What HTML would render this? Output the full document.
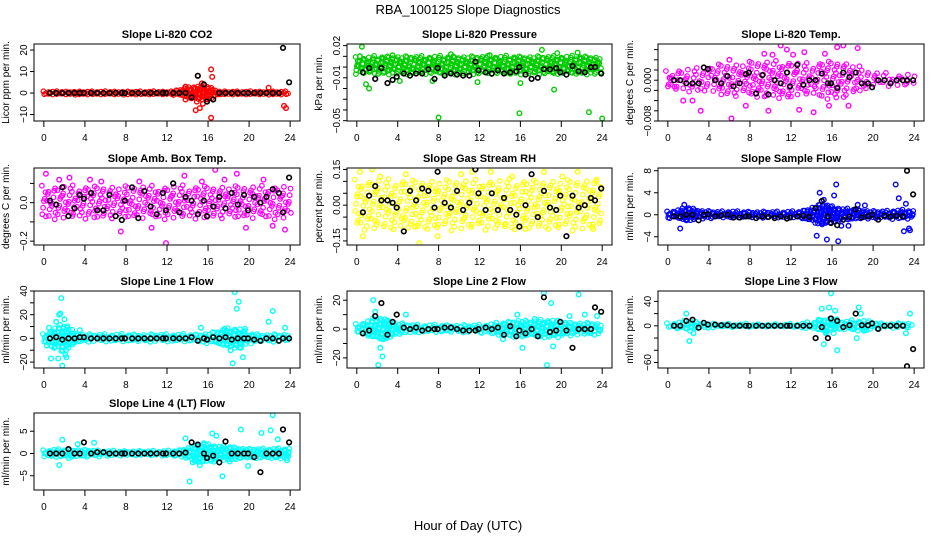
<!DOCTYPE html>
<html><head><meta charset="utf-8"><style>
html,body{margin:0;padding:0;background:#fff;}
svg{display:block;font-family:"Liberation Sans",sans-serif;}
</style></head><body>
<svg id="chart" width="936" height="540" viewBox="0 0 936 540">
<text x="468" y="14" text-anchor="middle" font-size="13">RBA_100125  Slope Diagnostics</text>
<text x="468" y="530" text-anchor="middle" font-size="13">Hour of Day (UTC)</text>
</svg>
<script>
const xTicks = [0,4,8,12,16,20,24];
const blackHours = [0.6,1.2,1.8,2.4,3.0,3.5,3.9,4.6,5.2,5.8,6.4,7.0,7.6,7.9,8.6,9.2,9.8,10.4,11.0,11.6,11.9,12.6,13.2,13.8,14.4,15.0,15.6,15.9,16.5,17.1,17.7,18.3,18.9,19.5,19.9,20.5,21.1,21.7,22.3,22.9,23.3,23.9];

const co2Black = [0,0,0,0,0,0,0,0,0,0,0,0,0,0,0,0,0,0,0,0,0,0,0,0,-2,8,4,-4,-3,0,0,0,0,0,0,0,0,0,0,0,21,5];
const co2Half = [0.6,0.6,0.6,0.6,0.6,0.6,0.6,0.6,0.6,0.6,0.6,0.6,0.6,1.2,2.5,3,3,0.8,0.6,0.6,0.6,0.6,0.6,0.6,0.6];
const co2OutX = [13.8,13.8,14.5,14.8,15.0,15.2,15.2,15.4,15.5,15.6,16.3,16.4,16.3,21.9,23.4,23.6,15.9,14.9];
const co2OutY = [3,-3,-2,-8,8,-7,1.5,4.5,-5,2,11,7.5,-11.5,2.5,-6,-7,-3,-4];

const pressBlack = [-0.005,-0.001,-0.011,-0.001,-0.015,-0.012,-0.009,-0.006,-0.008,-0.006,-0.006,-0.002,-0.011,-0.001,-0.008,-0.006,-0.007,-0.008,-0.008,0.005,-0.003,-0.005,-0.006,-0.003,-0.006,-0.005,-0.004,0.0,-0.007,-0.011,-0.010,-0.002,-0.002,-0.001,-0.005,-0.007,0.001,-0.004,-0.005,0.0,0.0,-0.006];
const pressHalf = [0.007,0.007,0.008,0.008,0.008,0.008,0.008,0.008,0.008,0.008,0.008,0.008,0.008,0.008,0.008,0.008,0.008,0.008,0.008,0.008,0.008,0.008,0.008,0.008,0.007];
const pressOutX = [0.5,0.9,1.2,8,15.9,18.1,19.3,19.6,22.7,24,21.6,9.2,7.4,16,11.8,3.5,0.3,4.2,13];
const pressOutY = [0.019,-0.016,-0.02,-0.047,-0.043,0.016,-0.021,0.013,-0.042,-0.048,0.0135,0.012,-0.013,-0.015,-0.014,0.011,0.01,-0.013,0.011];

const tempBlack = [0,0,-0.0006,-0.0006,-0.0006,0.0025,0.0022,0,-0.0006,0.0008,-0.0012,-0.0006,0.0012,0.0015,-0.0026,0.0010,-0.0028,0,-0.0006,0.0015,-0.0012,0.0030,-0.0009,0,0,0.0013,-0.0006,-0.0006,-0.0015,0.0015,0.0006,0.0015,-0.0006,-0.0006,-0.0014,0,0,-0.0006,0,0,0,0];
const tempHalf = [0.0015,0.002,0.002,0.002,0.0025,0.003,0.003,0.003,0.0035,0.0035,0.0035,0.0035,0.0035,0.003,0.003,0.0035,0.0035,0.0035,0.003,0.002,0.0015,0.0012,0.001,0.001,0.001];
const tempOutX = [0.2,1.5,2.4,3.2,6.2,7.6,8.5,9.4,10.2,11,11.6,12.2,12.8,13.3,14.2,15.7,16.5,17.1,17.6,18.5,15.3,6,9.8];
const tempOutY = [0.0004,-0.004,-0.004,-0.006,-0.0075,-0.005,-0.0085,0.0052,0.005,0.0068,0.006,0.005,-0.0058,0.0055,-0.0063,-0.005,0.0065,0.0068,-0.005,0.0063,0.0052,0.004,-0.006];

const ambBlack = [0.01,-0.01,0.08,-0.07,-0.03,0.04,0.02,0.05,-0.04,-0.04,0.04,-0.07,-0.09,0.01,0.08,-0.08,0.06,-0.02,-0.06,0.05,-0.04,0.10,-0.05,0.03,0.01,-0.06,0.01,-0.07,-0.02,0.03,-0.03,0.05,-0.01,0.04,-0.04,0.03,0,0.03,0.07,0.05,-0.05,0.13];
const ambHalf = [0.08,0.08,0.08,0.08,0.08,0.08,0.08,0.08,0.08,0.08,0.08,0.08,0.08,0.08,0.08,0.08,0.08,0.08,0.08,0.08,0.08,0.08,0.08,0.08,0.08];
const ambOutX = [0.2,1.5,2.5,4.5,7.5,9.3,11.9,13.7,15.4,16.7,17.6,18.8,19.7,21.4,23.5,22.3,5.6,10.5];
const ambOutY = [0.15,0.12,0.13,0.12,-0.15,0.11,-0.21,0.14,0.11,0.17,0.12,0.15,-0.13,0.12,-0.14,-0.12,0.11,-0.13];

const rhBlack = [-0.03,0.04,0.08,0.02,0.02,0.01,-0.01,-0.11,0.06,0.02,0.07,0.06,-0.01,0.14,0.01,-0.01,0.06,-0.02,0.01,0.15,0.05,-0.02,0.05,-0.02,0.03,-0.02,-0.04,-0.09,0.00,0.13,-0.05,0.06,-0.01,-0.02,0.04,-0.13,0.04,-0.01,0.00,0.03,0.02,0.07];
const rhHalf = [0.1,0.1,0.1,0.1,0.1,0.1,0.1,0.1,0.1,0.1,0.1,0.1,0.1,0.1,0.1,0.1,0.1,0.1,0.1,0.1,0.1,0.1,0.1,0.1,0.1];
const rhOutX = [0.3,0.6,1.5,2.3,4.8,6.1,7.9,10.2,11.3,14.5,15.2,16.5,18.3,20.1,21.6,23.1,23.4,5.7,13.1];
const rhOutY = [0.14,-0.13,0.15,0.12,0.13,-0.16,-0.13,0.13,0.14,-0.08,0.12,-0.1,0.14,0.12,0.14,-0.1,0.1,-0.09,0.14];

const sampleBlack = [-0.3,-0.3,0,0,-1,0,0.1,-0.3,-0.1,0,-0.5,-0.5,-0.3,-0.3,-0.6,-0.3,-0.4,-0.6,-0.3,-0.7,-0.5,-0.3,-0.2,-0.4,1.2,2.5,-0.3,-1.5,-1.9,-0.9,-0.4,1,-0.5,-0.3,0,-0.9,-0.2,-0.3,-0.2,-0.3,8,3.7];
const sampleHalf = [0.5,0.8,1.3,0.8,0.6,0.5,0.6,0.5,0.5,0.5,0.5,0.5,0.5,0.6,1.2,2,1.5,1,1,0.8,0.6,0.6,0.7,0.8,0.6];
const sampleOutX = [1.2,1.6,1.8,14.5,14.8,15.2,15.5,15.7,16.2,16.4,16.6,17.6,18.5,19.2,22.2,22.5,23,23.2,23.5,23.6,15.1,16.9];
const sampleOutY = [-2.5,1.8,-1,-3.8,4,2.7,-4.5,1.2,3.5,5.5,-4.8,-2,1.8,1.7,5.5,3,-3,2,-2.5,-2.8,-1.5,-2];

const line1Black = [0,1,-1,0,0,1,1,0,0,0,0,0,0,0,0,0,0,0,0,0,0,0,0,0,1,-2,0,-1,1,0,1,-1,0,0,0,-1,-2,0,0,-2,0,0];
const line1Half = [3,8,12,5,3,3,3,3,3,3,3,3,3,3,3,3,4,6,8,8,4,3,3,3,3];
const line1OutX = [0.3,0.7,1.0,1.2,1.4,1.6,1.7,1.8,2.0,2.1,2.2,15.3,17.6,18.2,18.4,18.6,18.8,19.0,19.2,19.4,19.6,21.9,22.3,23.5,0.5,1.5,3.5];
const line1OutY = [-6,-17,-8,14,-17,21,34,-23,16,-14,-16,9,8,-10,-21,39,25,31,-8,-16,8,14,23,9,9,20,7];

const line2Black = [-3,-1,9,18,-4,5,10,1,0,1,-1,0,0,0,1,1,0,-1,-1,-1,0,1,0,1,-4,2,-5,-1,-3,0,-5,22,-2,-1,5,-1,-13,0,0,0,15,12];
const line2Half = [3,5,8,6,4,3,2.5,2.5,2.5,2.5,2.5,2.5,2.5,3,4,5,6,5,6,6,5,4,4,4,3];
const line2OutX = [1.6,1.8,2.1,2.3,2.5,3,4.8,15.7,16.2,17.4,18.3,18.6,19.0,19.2,20.8,21.7,22.3,23.5,2.6,14.3];
const line2OutY = [20,12,-25,-13,-19,6,10,10,-13,7,25,-25,18,-12,9,24,10,9,-7,-7];

const line3Black = [0,0,8,10,-3,5,2,2,1,1,0,0,0,0,0,0,0,0,0,0,0,0,0,0,-20,-2,-20,12,8,-2,1,20,1,1,4,-5,0,0,0,0,-66,-38];
const line3Half = [3,5,8,5,3,2,2,2,2,2,2,2,2,3,5,10,12,6,8,8,5,3,3,4,3];
const line3OutX = [1.8,2.1,2.5,15.0,15.2,15.4,15.7,15.9,16.3,16.5,18.4,18.6,18.8,19.1,23.2,23.6,14.7];
const line3OutY = [20,-25,-12,28,-30,-12,30,53,25,-40,-20,30,20,-8,-12,20,10];

const line4Black = [0,0,0,1,0,0,2.5,0,0.3,0.3,0,0,0,0,0,0,0,0,0,0,0,0,0,0.2,2.5,2,0,-1,-0.5,-2,2.7,0,0,0,0,-0.8,-4.2,0,0,0,5.4,2.5];
const line4Half = [0.6,0.8,0.8,0.8,0.8,0.6,0.5,0.5,0.5,0.5,0.5,0.5,0.5,0.6,1.2,2,2,1.5,1.5,1.2,1,1,1,1,1];
const line4OutX = [1.5,1.8,2.4,3.3,4.9,14.2,13.8,15.2,15.6,16.4,16.8,17.4,18.1,19.2,19.9,21.2,22.1,22.3,22.8,23.7,15,14.5];
const line4OutY = [-2.6,3.1,-1,2.1,2.4,-6.3,3.4,-2.6,2.3,4.5,4,-5.1,-1.8,5.4,-2.8,4.6,5.2,8.6,3.2,-1.5,1.8,-2];

const NS = "http://www.w3.org/2000/svg";
const svg = document.getElementById("chart");
const colL = [34, 347, 658], colW = [266, 265, 266];
const rowT = [44, 168, 291, 413], rowH = 77;

const panels = [
 {key:"co2", title:"Slope Li-820 CO2", ylab:"Licor ppm per min.", r:0, c:0, ymin:-13, ymax:22.8, mid:0, color:"#ff0000", ticks:[-10,0,10,20], labels:[[-10,"−10"],[0,"0"],[10,"10"],[20,"20"]], sx:2.2, sy:2.5, jit:0.5, black:co2Black, half:co2Half, ox:co2OutX, oy:co2OutY},
 {key:"pressure", title:"Slope Li-820 Pressure", ylab:"kPa per min.", r:0, c:1, ymin:-0.0503, ymax:0.0215, mid:0.0015, color:"#00cd00", ticks:[0.02,0.01,0,-0.01,-0.02,-0.03,-0.04,-0.05], labels:[[0.02,"0.02"],[-0.01,"−0.01"],[-0.05,"−0.05"]], sx:3, sy:3, jit:1.2, black:pressBlack, half:pressHalf, ox:pressOutX, oy:pressOutY},
 {key:"li820-temp", title:"Slope Li-820 Temp.", ylab:"degrees C per min.", r:0, c:2, ymin:-0.008, ymax:0.0071, mid:0, color:"#ff00ff", ticks:[0.006,0.004,0.002,0,-0.002,-0.004,-0.006,-0.008], labels:[[0,"0.000"],[-0.008,"−0.008"]], sx:5, sy:5, jit:2, black:tempBlack, half:tempHalf, ox:tempOutX, oy:tempOutY},
 {key:"amb-box-temp", title:"Slope Amb. Box Temp.", ylab:"degrees C per min.", r:1, c:0, ymin:-0.22, ymax:0.18, mid:0, color:"#ff00ff", ticks:[0.1,0,-0.1,-0.2], labels:[[0,"0.0"],[-0.2,"−0.2"]], sx:5, sy:5, jit:2, black:ambBlack, half:ambHalf, ox:ambOutX, oy:ambOutY},
 {key:"gas-stream-rh", title:"Slope Gas Stream RH", ylab:"percent per min.", r:1, c:1, ymin:-0.167, ymax:0.156, mid:0, color:"#ffff00", ticks:[0.15,0.1,0.05,0,-0.05,-0.1,-0.15], labels:[[0.15,"0.15"],[0,"0.00"],[-0.15,"−0.15"]], sx:5.5, sy:5.5, jit:2.2, black:rhBlack, half:rhHalf, ox:rhOutX, oy:rhOutY},
 {key:"sample-flow", title:"Slope Sample Flow", ylab:"ml/min per min.", r:1, c:2, ymin:-5.5, ymax:8.5, mid:0, color:"#0000ff", ticks:[8,4,0,-4], labels:[[8,"8"],[4,"4"],[0,"0"],[-4,"−4"]], sx:2.5, sy:2.5, jit:0.8, black:sampleBlack, half:sampleHalf, ox:sampleOutX, oy:sampleOutY},
 {key:"line1-flow", title:"Slope Line 1 Flow", ylab:"ml/min per min.", r:2, c:0, ymin:-25, ymax:40, mid:0, color:"#00ffff", ticks:[40,30,20,10,0,-10,-20], labels:[[40,"40"],[20,"20"],[0,"0"],[-20,"−20"]], sx:2.8, sy:3, jit:1, black:line1Black, half:line1Half, ox:line1OutX, oy:line1OutY},
 {key:"line2-flow", title:"Slope Line 2 Flow", ylab:"ml/min per min.", r:2, c:1, ymin:-27, ymax:26.4, mid:0, color:"#00ffff", ticks:[20,10,0,-10,-20], labels:[[20,"20"],[0,"0"],[-20,"−20"]], sx:2.8, sy:3, jit:1, black:line2Black, half:line2Half, ox:line2OutX, oy:line2OutY},
 {key:"line3-flow", title:"Slope Line 3 Flow", ylab:"ml/min per min.", r:2, c:2, ymin:-69, ymax:57, mid:0, color:"#00ffff", ticks:[40,20,0,-20,-40,-60], labels:[[40,"40"],[0,"0"],[-60,"−60"]], sx:2.8, sy:3, jit:1, black:line3Black, half:line3Half, ox:line3OutX, oy:line3OutY},
 {key:"line4-flow", title:"Slope Line 4 (LT) Flow", ylab:"ml/min per min.", r:3, c:0, ymin:-8.2, ymax:9.1, mid:0, color:"#00ffff", ticks:[5,0,-5], labels:[[5,"5"],[0,"0"],[-5,"−5"]], sx:2.5, sy:2.5, jit:0.8, black:line4Black, half:line4Half, ox:line4OutX, oy:line4OutY}
];

function mk(tag, attrs, parent){
  const e = document.createElementNS(NS, tag);
  for (const k in attrs) e.setAttribute(k, attrs[k]);
  parent.appendChild(e);
  return e;
}
function ring(g, x, y, color, w){
  return mk("circle", {cx:x.toFixed(1), cy:y.toFixed(1), r:2.3, fill:"none", stroke:color, "stroke-width":w}, g);
}
// deterministic texture offset for band rings (visual only)
function tex(a, b){ return (((a * 37 + b * 53) % 11) / 10) - 0.5; }

panels.forEach(p => {
  const L = colL[p.c], W = colW[p.c], T = rowT[p.r], H = rowH, B = T + H;
  const xs = h => L + (h + 0.96) / 25.92 * W;
  const ys = v => T + (p.ymax - v) / (p.ymax - p.ymin) * H;
  const g = mk("g", {}, svg);
  
  
  const cp = mk("clipPath", {id:"clip-" + p.key}, g);
  mk("rect", {x:L, y:T, width:W, height:H}, cp);

  const title = mk("text", {x:L + W/2, y:T - 6, "text-anchor":"middle", "font-size":11, "font-weight":"bold"}, g);
  title.textContent = p.title;
  
  

  const yl = mk("text", {x:0, y:0, "text-anchor":"middle", "font-size":10, transform:"translate(" + (L-25) + "," + (T+H/2) + ") rotate(-90)"}, g);
  yl.textContent = p.ylab;
  
  

  const band = mk("g", {"clip-path":"url(#clip-" + p.key + ")"}, g);
  
  
  let col = 0;
  for (let px = xs(0); px <= xs(24); px += p.sx, col++) {
    const h = (px - L) / W * 25.92 - 0.96;
    const i = Math.max(0, Math.min(23, Math.floor(h)));
    const f = Math.max(0, Math.min(1, h - i));
    const hw = p.half[i] * (1 - f) + p.half[i + 1] * f;
    const top = ys(p.mid + hw), bot = ys(p.mid - hw);
    const off = (col % 2) * p.sy / 2;
    let row = 0;
    for (let py = top + off; py <= bot + 0.01; py += p.sy, row++) {
      ring(band, px + tex(col, row) * p.jit * 2, py + tex(row + 3, col) * p.jit * 2, p.color, 1.2);
    }
    if (bot - top < p.sy) ring(band, px, (top + bot) / 2, p.color, 1.2);
  }
  const og = mk("g", {"clip-path":"url(#clip-" + p.key + ")"}, g);
  
  
  p.ox.forEach((h, k) => {
    const c = ring(og, xs(h), ys(p.oy[k]), p.color, 1.4);
    
    
  });
  const bg = mk("g", {"clip-path":"url(#clip-" + p.key + ")"}, g);
  
  
  blackHours.forEach((h, k) => {
    const c = ring(bg, xs(h), ys(p.black[k]), "#000", 1.6);
    
    
  });

  const fr = mk("rect", {x:L, y:T, width:W, height:H, fill:"none", stroke:"#000", "stroke-width":1}, g);
  
  

  const xa = mk("g", {"font-size":10, "text-anchor":"middle"}, g);
  
  
  mk("line", {x1:xs(0), x2:xs(24), y1:B, y2:B, stroke:"#000"}, xa);
  xTicks.forEach(t => {
    mk("line", {x1:xs(t), x2:xs(t), y1:B, y2:B + 6, stroke:"#000"}, xa);
    const tl = mk("text", {x:xs(t), y:B + 20}, xa);
    tl.textContent = t;
    
    
  });

  const ya = mk("g", {"font-size":10, "text-anchor":"middle"}, g);
  
  
  const tv = p.ticks;
  mk("line", {x1:L, x2:L, y1:ys(Math.max(...tv)), y2:ys(Math.min(...tv)), stroke:"#000"}, ya);
  tv.forEach(t => mk("line", {x1:L - 4, x2:L, y1:ys(t), y2:ys(t), stroke:"#000"}, ya));
  p.labels.forEach(([v, s]) => {
    const tl = mk("text", {x:0, y:0, transform:"translate(" + (L-7) + "," + ys(v).toFixed(1) + ") rotate(-90)"}, ya);
    tl.textContent = s;
    
    
  });
});
</script>
</body></html>
